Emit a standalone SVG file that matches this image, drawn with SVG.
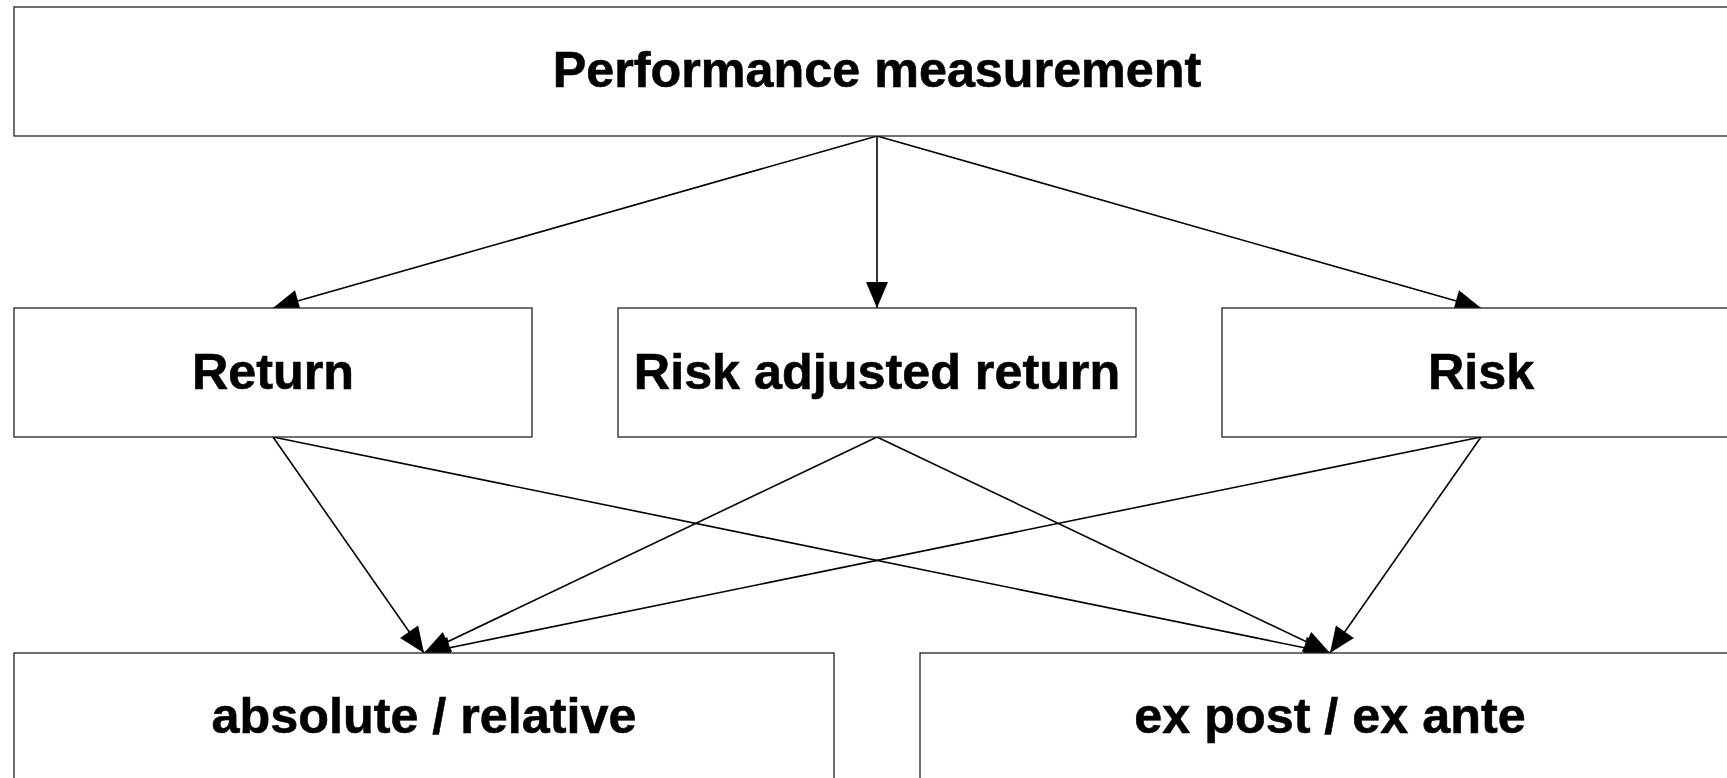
<svg xmlns="http://www.w3.org/2000/svg" width="1727" height="778" viewBox="0 0 1727 778">
<defs>
<style>
.box{fill:#fff;stroke:#222;stroke-width:1.3}
.lbl{font-family:"Liberation Sans",Arial,sans-serif;font-weight:bold;font-size:50.3px;fill:#000;text-anchor:middle;stroke:#000;stroke-width:0.6}
.con{stroke:#000;stroke-width:1.6;fill:none;marker-end:url(#ah)}
</style>
<marker id="ah" markerUnits="userSpaceOnUse" markerWidth="26" markerHeight="22" refX="26" refY="11" orient="auto" overflow="visible">
<path d="M0,0 L26,11 L0,22 Z" fill="#000"/>
</marker>
</defs>
<rect width="1727" height="778" fill="#fff"/>
<g id="connectors">
<line class="con" x1="877" y1="136" x2="273" y2="308"/>
<line class="con" x1="877" y1="136" x2="877" y2="308"/>
<line class="con" x1="877" y1="136" x2="1481" y2="308"/>
<line class="con" x1="273" y1="437" x2="424" y2="653"/>
<line class="con" x1="273" y1="437" x2="1330" y2="653"/>
<line class="con" x1="877" y1="437" x2="424" y2="653"/>
<line class="con" x1="877" y1="437" x2="1330" y2="653"/>
<line class="con" x1="1481" y1="437" x2="424" y2="653"/>
<line class="con" x1="1481" y1="437" x2="1330" y2="653"/>
</g>
<g id="node-performance">
<rect class="box" x="14" y="7" width="1727" height="129"/>
<text class="lbl" x="877" y="87">Performance measurement</text>
</g>
<g id="node-return">
<rect class="box" x="14" y="308" width="518" height="129"/>
<text class="lbl" x="273" y="389">Return</text>
</g>
<g id="node-risk-adjusted">
<rect class="box" x="618" y="308" width="518" height="129"/>
<text class="lbl" x="877" y="389">Risk adjusted return</text>
</g>
<g id="node-risk">
<rect class="box" x="1222" y="308" width="518" height="129"/>
<text class="lbl" x="1481" y="389">Risk</text>
</g>
<g id="node-absolute">
<rect class="box" x="14" y="653" width="820" height="129"/>
<text class="lbl" x="424" y="733">absolute / relative</text>
</g>
<g id="node-expost">
<rect class="box" x="920" y="653" width="820" height="129"/>
<text class="lbl" x="1330" y="733">ex post / ex ante</text>
</g>
</svg>
